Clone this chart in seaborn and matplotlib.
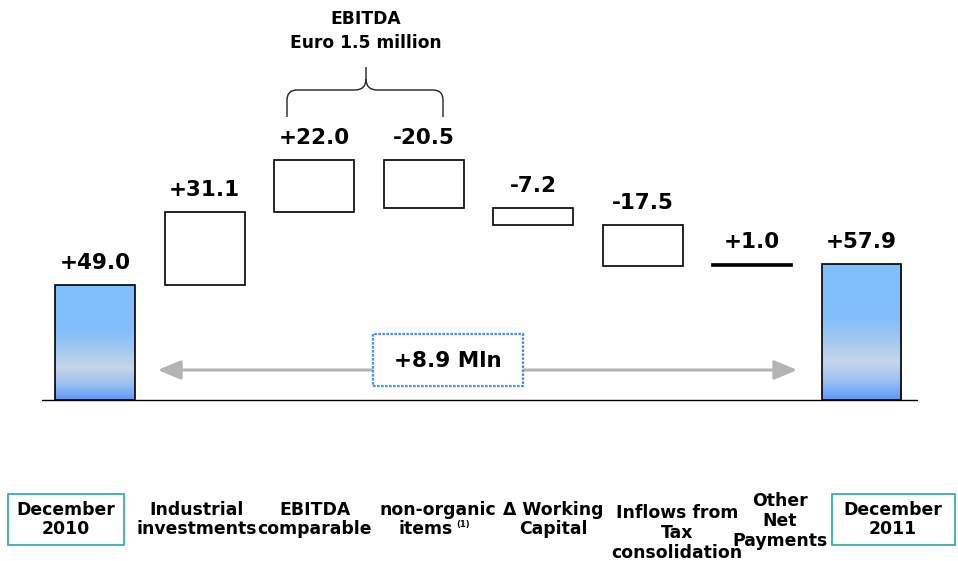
import numpy as np
import pandas as pd
import matplotlib
matplotlib.use("Agg")
import matplotlib.pyplot as plt
import seaborn as sns
from matplotlib.patches import Rectangle, FancyArrowPatch, PathPatch
from matplotlib.path import Path
from matplotlib.colors import LinearSegmentedColormap

# ---- data -------------------------------------------------------------
categories = [
    "December 2010", "Industrial investments", "EBITDA comparable",
    "non-organic items", "Δ Working Capital", "Inflows from Tax consolidation",
    "Other Net Payments", "December 2011",
]
changes = [49.0, 31.1, 22.0, -20.5, -7.2, -17.5, 1.0, 57.9]
kinds = ["total", "step", "step", "step", "step", "step", "step", "total"]
value_labels = ["+49.0", "+31.1", "+22.0", "-20.5", "-7.2", "-17.5", "+1.0", "+57.9"]
net_change_label = "+8.9 Mln"
ebitda_note = "EBITDA\nEuro 1.5 million"
axis_labels = [
    "December\n2010", "Industrial\ninvestments", "EBITDA\ncomparable",
    "non-organic", "Δ Working\nCapital", "Inflows from\nTax\nconsolidation",
    "Other\nNet\nPayments", "December\n2011",
]

# ---- waterfall geometry ----------------------------------------------
bottoms, heights = [], []
running = 0.0
for v, k in zip(changes, kinds):
    if k == "total":
        bottoms.append(0.0)
        heights.append(v)
        running = v
    else:
        bottoms.append(running + min(v, 0.0))
        heights.append(abs(v))
        running += v

df = pd.DataFrame({"category": categories, "value": changes, "kind": kinds,
                   "bottom": bottoms, "height": heights})
totals = df[df["kind"] == "total"]
steps = df[df["kind"] == "step"]

# ---- figure -----------------------------------------------------------
sns.set_theme(style="white")
plt.rcParams["font.family"] = ["DejaVu Sans"]
plt.rcParams["text.color"] = "black"

W, H = 958, 561
fig = plt.figure(figsize=(W / 100, H / 100), dpi=100)
ax = fig.add_axes([0, 0, 1, 1])


def px(x, y):
    """pixel position -> axes fraction (axes fills the figure)"""
    return (x / W, 1 - y / H)


BAR_W = 0.73
sns.barplot(data=totals, x="category", y="value", order=categories,
            width=BAR_W, fill=False, color="black", linewidth=1.2,
            ax=ax, zorder=3)
total_patches = list(ax.patches)

# floating steps
pos = {c: i for i, c in enumerate(categories)}
for _, r in steps.iterrows():
    face = "black" if r["height"] < 2 else "white"
    ax.bar(pos[r["category"]], r["height"], bottom=r["bottom"], width=BAR_W,
           facecolor=face, edgecolor="black", linewidth=1.2, zorder=3)

# gradient fill of the two balance bars
grad_cmap = LinearSegmentedColormap.from_list(
    "bar_grad",
    [(0.0, "#80BEFD"), (0.40, "#83BFFC"), (0.58, "#A6C9EF"),
     (0.72, "#C6D6EA"), (0.86, "#9EC0F2"), (1.0, "#5C99F8")])
grad = np.linspace(0, 1, 256).reshape(-1, 1)
for p in total_patches:
    x0, y0 = p.get_x(), p.get_y()
    w, h = p.get_width(), p.get_height()
    im = ax.imshow(grad, cmap=grad_cmap, extent=(x0, x0 + w, y0, y0 + h),
                   origin="upper", aspect="auto", zorder=2, interpolation="bilinear")
    im.set_clip_path(p)

# value labels
for i, (b, h, lab) in enumerate(zip(bottoms, heights, value_labels)):
    ax.annotate(lab, (i, b + h), xytext=(0, 16), textcoords="offset points",
                ha="center", va="center", fontsize=15.5, fontweight="bold",
                color="black", zorder=5)

ax.set_xlim(-0.868, 7.881)
ax.set_ylim(-68.5, 170.2)
ax.axis("off")

# baseline
ax.axhline(0, xmin=42 / W, xmax=917 / W, color="black", linewidth=1.0, zorder=4)

# net change arrow between the two balances
arrow = FancyArrowPatch(px(155, 370), px(800, 370), transform=ax.transAxes,
                        arrowstyle="<|-|>,head_length=1.0,head_width=0.42",
                        mutation_scale=14, color="#B4B4B4", linewidth=2.2,
                        zorder=4)
ax.add_patch(arrow)
ax.add_patch(Rectangle(px(373, 386), 150 / W, 52 / H, transform=ax.transAxes,
                       facecolor="white", edgecolor="#4A90F0", linewidth=1.6,
                       linestyle=(0, (1.2, 0.6)), zorder=5))
ax.text(*px(448, 361), net_change_label, transform=ax.transAxes, ha="center",
        va="center", fontsize=15.5, fontweight="bold", zorder=6)

# EBITDA brace and note
brace_left = [(287, 117), (287, 100), (287, 90), (297, 90), (355, 90),
              (366, 90), (366, 79), (366, 67)]
brace_right = [(366, 79), (366, 90), (377, 90), (433, 90), (443, 90),
               (443, 100), (443, 117)]
codes_left = [Path.MOVETO, Path.LINETO, Path.CURVE3, Path.CURVE3, Path.LINETO,
              Path.CURVE3, Path.CURVE3, Path.LINETO]
codes_right = [Path.MOVETO, Path.CURVE3, Path.CURVE3, Path.LINETO,
               Path.CURVE3, Path.CURVE3, Path.LINETO]
for pts, codes in ((brace_left, codes_left), (brace_right, codes_right)):
    path = Path([px(*p) for p in pts], codes)
    ax.add_patch(PathPatch(path, transform=ax.transAxes, facecolor="none",
                           edgecolor="#222222", linewidth=1.0, zorder=4))
ax.text(*px(366, 31), ebitda_note, transform=ax.transAxes, ha="center",
        va="center", fontsize=12.3, fontweight="bold", linespacing=1.38)

# category labels
label_pos = [(66, 519.5), (197, 519.5), (315, 519.5), (438, 510),
             (553, 519.5), (677, 533), (780, 521), (893, 519.5)]
for lab, (x, y) in zip(axis_labels, label_pos):
    ax.text(*px(x, y), lab, transform=ax.transAxes, ha="center", va="center",
            fontsize=12.4, fontweight="bold", linespacing=1.13)
ax.text(*px(426, 529), "items", transform=ax.transAxes, ha="center",
        va="center", fontsize=12.4, fontweight="bold")
ax.text(*px(463, 524), "(1)", transform=ax.transAxes, ha="center",
        va="center", fontsize=6, fontweight="bold")

for x0, x1 in ((8, 124), (832, 955)):
    ax.add_patch(Rectangle(px(x0, 545), (x1 - x0) / W, 51 / H,
                           transform=ax.transAxes, facecolor="none",
                           edgecolor="#2AA5A5", linewidth=1.2, zorder=4))

fig.savefig("out.png", dpi=100)
